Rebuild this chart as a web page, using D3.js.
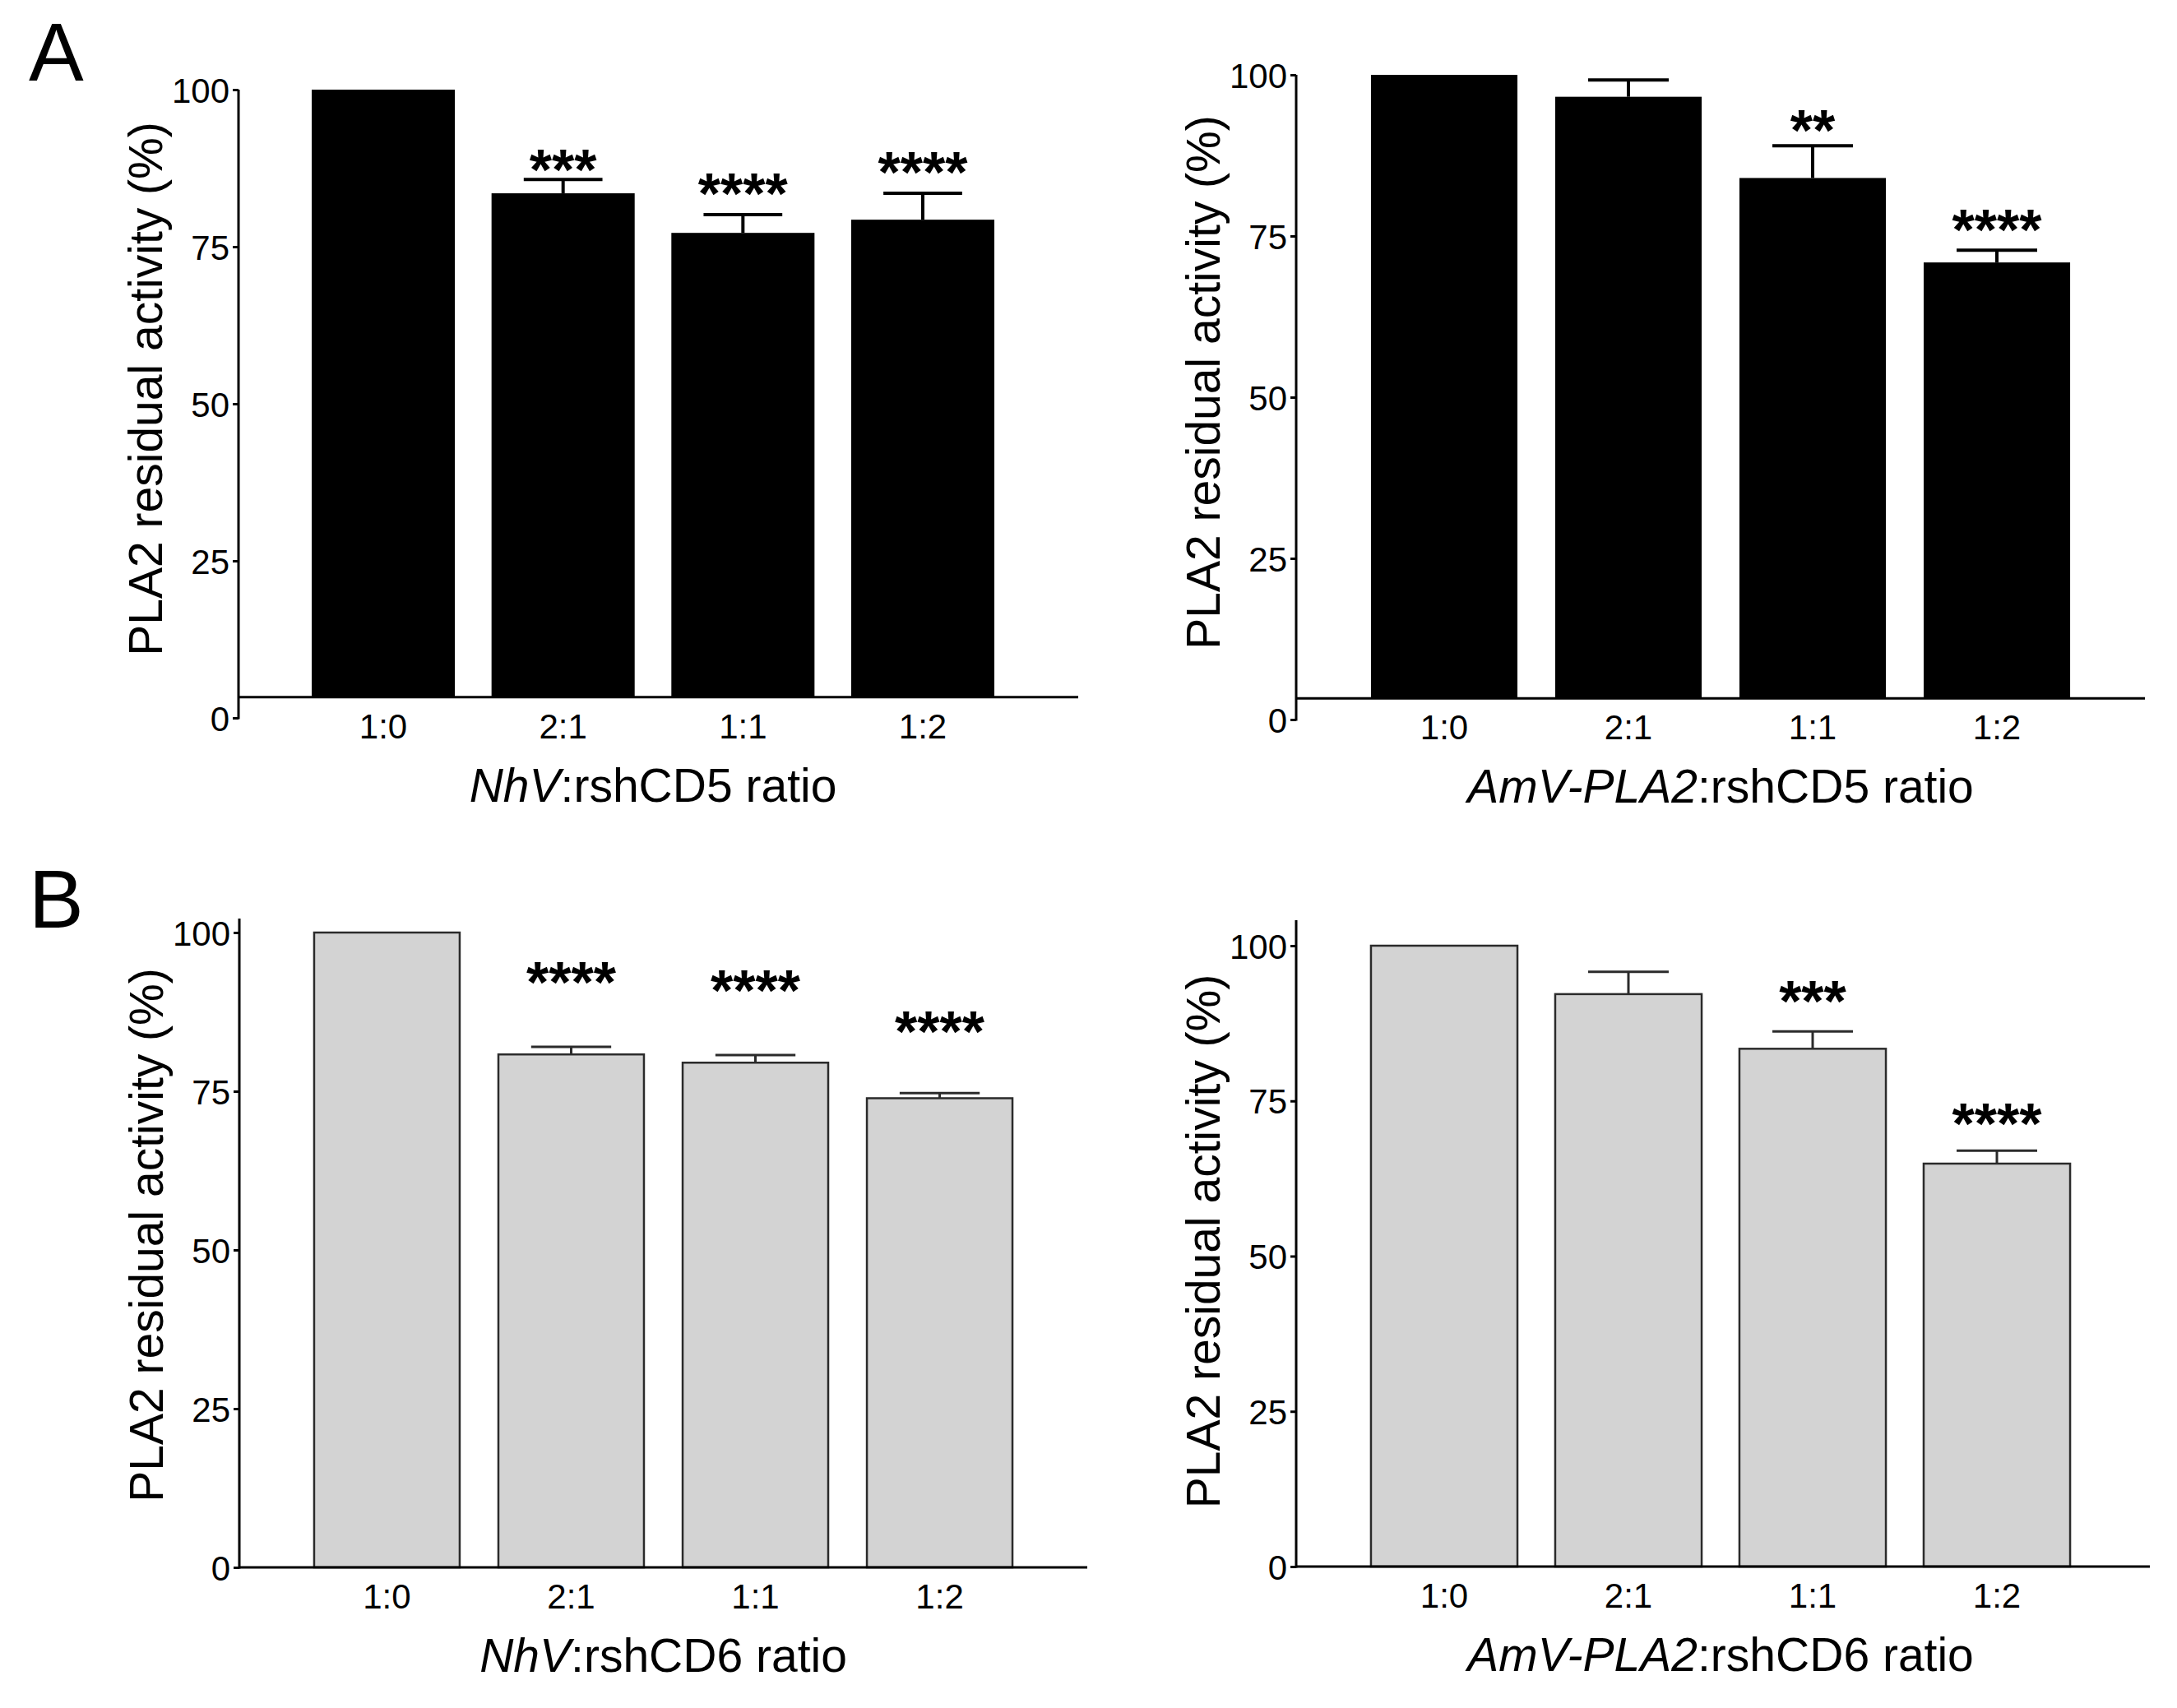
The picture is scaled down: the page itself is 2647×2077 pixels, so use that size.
<!DOCTYPE html>
<html>
<head>
<meta charset="utf-8">
<script src="https://cdn.jsdelivr.net/npm/d3@7"></script>
<style>
  body { margin: 0; background: #fff; }
  text { font-family: "Liberation Sans", Arial, sans-serif; fill: #000; }
</style>
</head>
<body>
<div id="chart"></div>
<script>
// data
const categories = ["1:0", "2:1", "1:1", "1:2"];
const yTicks = [0, 25, 50, 75, 100];

const cd5NhvMean = [100, 83.5, 77.2, 79.3];
const cd5NhvSem = [0, 2.2, 2.9, 4.2];
const cd5NhvStars = ["", "***", "****", "****"];
const cd5NhvStarLevel = [null, 86.8, 83.0, 86.4];

const cd5AmvMean = [100, 96.6, 84.0, 70.9];
const cd5AmvSem = [0, 2.6, 5.0, 1.9];
const cd5AmvStars = ["", "", "**", "****"];
const cd5AmvStarLevel = [null, null, 90.9, 75.5];

const cd6NhvMean = [100, 80.8, 79.5, 73.9];
const cd6NhvSem = [0, 1.2, 1.2, 0.8];
const cd6NhvStars = ["", "****", "****", "****"];
const cd6NhvStarLevel = [null, 91.7, 90.4, 83.9];

const cd6AmvMean = [100, 92.2, 83.4, 64.9];
const cd6AmvSem = [0, 3.6, 2.8, 2.1];
const cd6AmvStars = ["", "", "***", "****"];
const cd6AmvStarLevel = [null, null, 90.6, 70.8];

const width = 2647, height = 2077;
const font = "'Liberation Sans', Arial, sans-serif";

// one entry per panel: data + where it sits on the page
const panels = [
    { letter: "A", mean: cd5NhvMean, sem: cd5NhvSem, stars: cd5NhvStars, levels: cd5NhvStarLevel,
      italic: "NhV", rest: ":rshCD5 ratio", fill: "#000", stroke: "none", errColor: "#000", errW: 4,
      x0: 290, x1: 1298, xEnd: 1311, y0: 873, y100: 109, baseAt: 3.3, axisTop: 100, pi: 0.204, po: 0.407 },
    { letter: null, mean: cd5AmvMean, sem: cd5AmvSem, stars: cd5AmvStars, levels: cd5AmvStarLevel,
      italic: "AmV-PLA2", rest: ":rshCD5 ratio", fill: "#000", stroke: "none", errColor: "#000", errW: 4,
      x0: 1576, x1: 2608, xEnd: 2608, y0: 875, y100: 91, baseAt: 3.3, axisTop: 100, pi: 0.205, po: 0.406 },
    { letter: "B", mean: cd6NhvMean, sem: cd6NhvSem, stars: cd6NhvStars, levels: cd6NhvStarLevel,
      italic: "NhV", rest: ":rshCD6 ratio", fill: "#d3d3d3", stroke: "#2b2b2b", errColor: "#2b2b2b", errW: 3,
      x0: 291, x1: 1322, xEnd: 1322, y0: 1906, y100: 1134, baseAt: 0, axisTop: 102.2, pi: 0.21, po: 0.406 },
    { letter: null, mean: cd6AmvMean, sem: cd6AmvSem, stars: cd6AmvStars, levels: cd6AmvStarLevel,
      italic: "AmV-PLA2", rest: ":rshCD6 ratio", fill: "#d3d3d3", stroke: "#2b2b2b", errColor: "#2b2b2b", errW: 3,
      x0: 1576, x1: 2608, xEnd: 2614, y0: 1905, y100: 1150, baseAt: 0, axisTop: 104.1, pi: 0.205, po: 0.406 }
];

const svg = d3.select("#chart")
    .append("svg")
    .attr("width", width)
    .attr("height", height)
    .style("background", "#fff");

panels.forEach(function (p) {
    const g = svg.append("g");

    const x = d3.scaleBand()
        .domain(categories)
        .range([p.x0, p.x1])
        .paddingInner(p.pi)
        .paddingOuter(p.po);

    const y = d3.scaleLinear()
        .domain([0, 100])
        .range([p.y0, p.y100]);

    const rows = categories.map(function (c, i) {
        return { cat: c, mean: p.mean[i], sem: p.sem[i], star: p.stars[i], level: p.levels[i] };
    });

    // bars
    g.selectAll(".bar")
        .data(rows)
        .join("rect")
        .attr("x", d => x(d.cat))
        .attr("width", x.bandwidth())
        .attr("y", d => y(d.mean))
        .attr("height", d => y(p.baseAt) - y(d.mean))
        .attr("fill", p.fill)
        .attr("stroke", p.stroke)
        .attr("stroke-width", 2.5);

    // upper error bars (SEM)
    const capW = x.bandwidth() * 0.55;
    const err = g.selectAll(".err")
        .data(rows.filter(d => d.sem > 0))
        .join("g")
        .attr("stroke", p.errColor)
        .attr("stroke-width", p.errW);
    err.append("line")
        .attr("x1", d => x(d.cat) + x.bandwidth() / 2)
        .attr("x2", d => x(d.cat) + x.bandwidth() / 2)
        .attr("y1", d => y(d.mean))
        .attr("y2", d => y(d.mean + d.sem));
    err.append("line")
        .attr("x1", d => x(d.cat) + x.bandwidth() / 2 - capW / 2)
        .attr("x2", d => x(d.cat) + x.bandwidth() / 2 + capW / 2)
        .attr("y1", d => y(d.mean + d.sem))
        .attr("y2", d => y(d.mean + d.sem));

    // significance stars, level = bottom of the asterisks
    g.selectAll(".star")
        .data(rows.filter(d => d.star))
        .join("text")
        .attr("x", d => x(d.cat) + x.bandwidth() / 2)
        .attr("y", d => y(d.level) + 21)
        .attr("text-anchor", "middle")
        .style("font-size", "70px")
        .style("font-weight", "bold")
        .text(d => d.star);

    // y axis
    const yAxis = g.append("g")
        .attr("transform", `translate(${p.x0},0)`)
        .call(d3.axisLeft(y).tickValues(yTicks).tickSizeInner(7).tickSizeOuter(0).tickPadding(4));
    yAxis.select(".domain").remove();
    yAxis.selectAll(".tick line").attr("stroke", "#000").attr("stroke-width", 3);
    yAxis.selectAll(".tick text")
        .style("font-family", font)
        .style("font-size", "42px")
        .attr("dy", "0.36em");
    g.append("line")
        .attr("x1", p.x0).attr("x2", p.x0)
        .attr("y1", y(0) + 1.5).attr("y2", y(p.axisTop))
        .attr("stroke", "#000").attr("stroke-width", 3);

    // x axis (line drawn separately, Prism style)
    const xAxis = g.append("g")
        .attr("transform", `translate(0,${y(p.baseAt)})`)
        .call(d3.axisBottom(x).tickSize(0).tickPadding(20));
    xAxis.select(".domain").remove();
    xAxis.selectAll(".tick text")
        .style("font-family", font)
        .style("font-size", "42px");
    g.append("line")
        .attr("x1", p.x0).attr("x2", p.xEnd)
        .attr("y1", y(p.baseAt)).attr("y2", y(p.baseAt))
        .attr("stroke", "#000").attr("stroke-width", 3);

    // axis titles
    const midX = (x(categories[0]) + x(categories[categories.length - 1]) + x.bandwidth()) / 2;
    const xt = g.append("text")
        .attr("x", midX)
        .attr("y", y(p.baseAt) + 127)
        .attr("text-anchor", "middle")
        .style("font-size", "57px");
    xt.append("tspan").style("font-style", "italic").text(p.italic);
    xt.append("tspan").text(p.rest);

    g.append("text")
        .attr("transform", `translate(${p.x0 - 93},${y(50) - 18}) rotate(-90)`)
        .attr("text-anchor", "middle")
        .style("font-size", "57px")
        .text("PLA2 residual activity (%)");

    if (p.letter) {
        svg.append("text")
            .attr("x", 35)
            .attr("y", p.letter === "A" ? 98 : 1128)
            .style("font-size", "100px")
            .text(p.letter);
    }
});
</script>
</body>
</html>
